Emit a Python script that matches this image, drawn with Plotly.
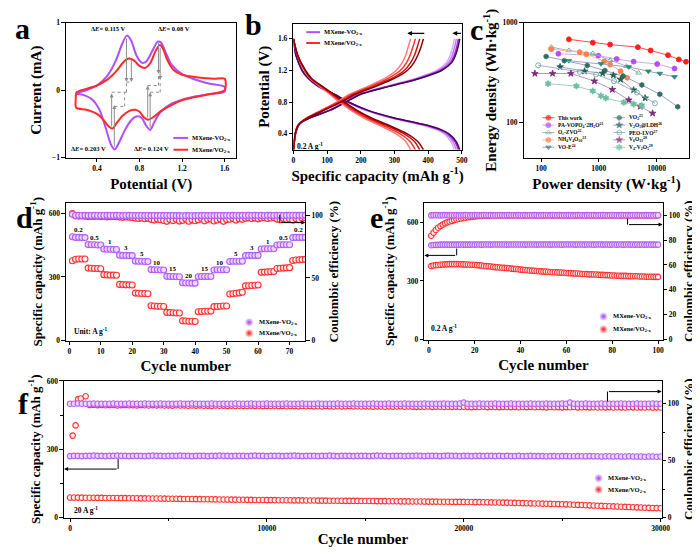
import plotly.graph_objects as go

# ======================= DATA =======================
# (a) cyclic voltammetry: potential (V) / current (mA)
cv_purple_v = [0.21, 0.30, 0.40, 0.50, 0.58, 0.64, 0.68, 0.72, 0.77, 0.82, 0.86, 0.92, 0.97, 1.00, 1.04, 1.10, 1.20, 1.30, 1.45, 1.60,
               1.60, 1.45, 1.30, 1.20, 1.10, 1.00, 0.94, 0.90, 0.86, 0.82, 0.77, 0.72, 0.66, 0.60, 0.565, 0.53, 0.48, 0.42, 0.35, 0.27, 0.21]
cv_purple_i = [-0.05, 0.00, 0.07, 0.22, 0.45, 0.70, 0.81, 0.74, 0.52, 0.41, 0.42, 0.58, 0.72, 0.71, 0.58, 0.38, 0.24, 0.17, 0.10, 0.05,
               -0.02, -0.06, -0.10, -0.14, -0.20, -0.32, -0.47, -0.59, -0.52, -0.41, -0.39, -0.45, -0.60, -0.80, -0.88, -0.80, -0.55, -0.28, -0.13, -0.07, -0.05]
cv_red_v = [0.205, 0.20, 0.21, 0.30, 0.40, 0.50, 0.58, 0.65, 0.70, 0.75, 0.80, 0.85, 0.90, 0.95, 0.99, 1.02, 1.06, 1.12, 1.20, 1.35, 1.50, 1.60,
            1.60, 1.45, 1.30, 1.20, 1.10, 1.00, 0.93, 0.88, 0.84, 0.80, 0.76, 0.70, 0.64, 0.58, 0.545, 0.50, 0.45, 0.40, 0.30, 0.205]
cv_red_i = [-0.26, -0.15, -0.03, 0.02, 0.07, 0.16, 0.28, 0.42, 0.47, 0.44, 0.36, 0.33, 0.40, 0.58, 0.67, 0.62, 0.45, 0.30, 0.23, 0.19, 0.17, 0.17,
            0.00, -0.06, -0.11, -0.15, -0.22, -0.31, -0.40, -0.44, -0.40, -0.32, -0.29, -0.31, -0.38, -0.50, -0.57, -0.52, -0.42, -0.35, -0.29, -0.26]
delta_e_labels = ["0.115 V", "0.08 V", "0.203 V", "0.124 V"]

# (b) galvanostatic charge/discharge at 0.2 A g-1 (capacity mAh g-1 vs potential V)
b_v_pur_dis = [1.6, 1.4, 1.2, 1.1, 1.0, 0.9, 0.8, 0.7, 0.6, 0.55, 0.5, 0.45, 0.4, 0.3, 0.2]
b_pur_dis_1 = [0, 7, 26, 45, 75, 122, 165, 220, 300, 355, 405, 440, 462, 484, 494]
b_pur_dis_2 = [0, 7, 26, 44, 74, 121, 164, 218, 297, 352, 402, 436, 458, 480, 490]
b_pur_dis_3 = [0, 7, 25, 44, 73, 119, 162, 215, 294, 348, 397, 431, 453, 474, 484]
b_pur_dis_4 = [0, 7, 25, 43, 72, 118, 160, 212, 290, 343, 392, 425, 447, 468, 478]
b_v_pur_cha = [0.2, 0.4, 0.5, 0.55, 0.6, 0.7, 0.8, 0.9, 1.0, 1.1, 1.2, 1.3, 1.4, 1.5, 1.6]
b_pur_cha_1 = [0, 6, 14, 25, 48, 110, 155, 200, 285, 375, 440, 470, 482, 489, 494]
b_pur_cha_2 = [0, 6, 14, 25, 48, 109, 154, 198, 282, 372, 436, 466, 478, 485, 490]
b_pur_cha_3 = [0, 6, 14, 24, 47, 108, 152, 196, 279, 367, 431, 460, 472, 479, 484]
b_pur_cha_4 = [0, 6, 13, 24, 46, 106, 150, 193, 275, 363, 425, 454, 466, 473, 478]
b_v_red_dis = [1.6, 1.4, 1.2, 1.1, 1.0, 0.9, 0.8, 0.7, 0.6, 0.5, 0.4, 0.3, 0.2]
b_red_dis_1 = [0, 12, 36, 54, 86, 120, 152, 188, 232, 288, 338, 370, 386]
b_red_dis_2 = [0, 12, 35, 52, 84, 117, 148, 183, 226, 280, 329, 360, 375]
b_red_dis_3 = [0, 11, 34, 51, 81, 113, 143, 176, 218, 270, 317, 347, 362]
b_red_dis_4 = [0, 11, 32, 49, 78, 108, 137, 170, 209, 260, 305, 334, 348]
b_v_red_cha = [0.2, 0.4, 0.5, 0.55, 0.6, 0.7, 0.8, 0.9, 1.0, 1.1, 1.2, 1.3, 1.4, 1.5, 1.6]
b_red_cha_1 = [0, 5, 13, 24, 42, 92, 142, 185, 245, 300, 338, 358, 370, 379, 386]
b_red_cha_2 = [0, 5, 13, 23, 41, 89, 138, 180, 238, 292, 329, 348, 360, 368, 375]
b_red_cha_3 = [0, 5, 12, 22, 39, 86, 133, 174, 230, 281, 317, 336, 347, 355, 362]
b_red_cha_4 = [0, 5, 12, 22, 38, 83, 128, 167, 221, 271, 305, 323, 334, 341, 348]

# (c) Ragone plot: power density (W kg-1) / energy density (Wh kg-1)
this_work_P = [303, 786, 1567, 4750, 7900, 15800, 24300, 32400]
this_work_E = [682, 632, 604, 569, 527, 473, 428, 406]
pa_vopo4_P = [199, 980, 2037, 4010, 10260, 20500]
pa_vopo4_E = [489, 467, 432, 407, 385, 347]
oc_zvo_P = [150, 303, 786, 1567, 3010, 4880]
oc_zvo_E = [569, 527, 492, 420, 366, 314]
nh4v4o10_P = [150, 467, 606, 1242, 1567, 2380, 3090]
nh4v4o10_E = [543, 507, 484, 410, 380, 326, 280]
vo_e_P = [302, 1088, 3300, 7210, 11400, 20500]
vo_e_E = [416, 388, 360, 326, 309, 286]
vo2_P = [122, 252, 630, 1274, 2640, 5560, 11400, 23300]
vo2_E = [459, 416, 372, 331, 291, 237, 191, 143]
v2o5_ldh_P = [213, 567, 1162, 1786, 2380, 4010, 6340]
v2o5_ldh_E = [360, 326, 311, 297, 269, 211, 175]
peo_lvo_P = [89, 467, 895, 1834, 4570, 9370]
peo_lvo_E = [374, 321, 302, 259, 199, 155]
v6o13_P = [78, 158, 328, 839, 1718, 3300, 5210, 8550]
v6o13_E = [309, 309, 309, 259, 213, 167, 144, 123]
v4_v2o5_P = [132, 409, 786, 1088, 1324, 2710, 4010, 5560]
v4_v2o5_E = [244, 231, 206, 184, 175, 158, 152, 147]

# (d) rate performance
d_rates = ["0.2", "0.5", "1", "3", "5", "10", "15", "20", "15", "10", "5", "3", "1", "0.5", "0.2"]
d_cycles = list(range(1, 76))
d_pur_cap = [490, 487, 487, 486, 486, 453, 452, 452, 451, 451, 432, 431, 431, 430, 430,
             403, 402, 402, 401, 401, 375, 374, 374, 373, 373, 335, 334, 334, 333, 333,
             303, 302, 302, 301, 301, 273, 272, 272, 271, 271, 301, 302, 302, 302, 302,
             333, 334, 334, 334, 334, 373, 374, 374, 374, 374, 401, 402, 402, 402, 402,
             432, 433, 433, 433, 433, 451, 452, 452, 452, 452, 486, 487, 487, 487, 487]
d_red_cap = [377, 384, 385, 385, 385, 342, 341, 340, 340, 339, 311, 310, 309, 309, 308,
             265, 264, 263, 263, 262, 224, 223, 222, 222, 221, 164, 163, 162, 162, 161,
             133, 132, 131, 130, 130, 93, 92, 91, 91, 90, 136, 137, 138, 138, 139,
             160, 161, 162, 163, 163, 220, 221, 223, 225, 228, 258, 259, 260, 261, 262,
             322, 323, 324, 325, 326, 340, 341, 342, 343, 344, 378, 380, 381, 382, 383]
d_pur_ce = [100.8, 99.9, 100.0, 99.9, 100.0, 99.8, 99.9, 100.0, 99.9, 99.9, 99.9, 100.0, 99.9, 99.9, 100.0,
            99.9, 99.8, 99.9, 100.0, 99.9, 99.8, 99.9, 99.9, 99.8, 99.9, 99.8, 99.9, 99.8, 99.9, 99.8,
            99.9, 99.8, 99.9, 99.8, 99.8, 99.7, 99.8, 99.8, 99.7, 99.8, 99.9, 99.8, 99.9, 99.8, 99.9,
            99.8, 99.9, 99.9, 99.8, 99.9, 99.9, 100.0, 99.9, 99.9, 100.0, 99.9, 100.0, 99.9, 100.0, 99.9,
            100.0, 99.9, 100.0, 100.0, 99.9, 100.0, 100.1, 99.9, 100.0, 100.0, 100.1, 100.0, 100.0, 100.1, 100.0]
d_red_ce = [101.5, 99.6, 99.4, 99.5, 99.3, 99.0, 99.2, 99.1, 99.3, 99.0, 99.2, 98.8, 99.0, 99.1, 98.9,
            98.6, 98.4, 98.7, 98.5, 98.3, 97.8, 97.5, 97.9, 97.3, 97.6, 96.8, 96.2, 97.0, 96.5, 95.9,
            95.2, 96.6, 95.8, 96.9, 95.4, 96.0, 97.2, 95.3, 96.4, 95.7, 96.5, 97.4, 95.6, 96.8, 97.1,
            95.5, 96.3, 97.0, 95.2, 96.6, 96.9, 97.5, 96.2, 97.3, 96.8, 97.6, 98.0, 97.4, 97.9, 97.2,
            97.8, 98.1, 97.5, 97.9, 98.2, 97.0, 96.5, 97.6, 96.8, 97.3, 96.2, 97.4, 96.6, 97.8, 98.0]

# (e) cycling at 0.2 A g-1
e_cycles = list(range(1, 101))
e_pur_cap = [483, 484, 485, 485, 486, 486, 486, 486, 486, 486, 486, 486, 486, 487, 486, 486, 486, 486, 487, 486,
             487, 487, 486, 487, 487, 487, 486, 487, 487, 487, 487, 487, 487, 486, 487, 487, 487, 487, 487, 487,
             487, 486, 487, 487, 487, 487, 486, 487, 487, 487, 487, 487, 486, 487, 487, 487, 487, 486, 487, 487,
             487, 487, 487, 486, 487, 487, 487, 486, 487, 487, 487, 486, 487, 487, 487, 486, 487, 487, 486, 487,
             487, 486, 487, 487, 486, 487, 487, 486, 487, 486, 487, 486, 487, 486, 486, 487, 486, 486, 486, 486]
e_red_cap = [376, 379, 381, 382, 383, 384, 385, 385, 386, 386, 386, 386, 386, 385, 385, 384, 384, 383, 383, 382,
             381, 380, 379, 377, 376, 375, 374, 372, 371, 370, 369, 368, 367, 366, 365, 363, 362, 361, 360, 358,
             357, 356, 355, 354, 353, 352, 351, 350, 349, 348, 348, 347, 346, 345, 345, 344, 343, 343, 342, 341,
             340, 340, 339, 338, 338, 337, 336, 336, 335, 334, 334, 333, 333, 332, 331, 331, 330, 330, 329, 328,
             328, 327, 327, 326, 326, 326, 325, 325, 324, 324, 324, 323, 323, 323, 322, 322, 322, 321, 321, 321]
e_pur_ce = [99.9, 100.0, 100.1, 100.0, 99.9, 100.0, 100.1, 100.0, 99.9, 100.0, 100.0, 100.1, 99.9, 100.0, 100.0,
            100.1, 100.0, 99.9, 100.0, 100.1, 100.0, 100.0, 99.9, 100.1, 100.0, 100.0, 100.1, 99.9, 100.0, 100.0,
            100.1, 100.0, 99.9, 100.0, 100.1, 100.0, 100.0, 99.9, 100.1, 100.0, 100.0, 100.1, 99.9, 100.0, 100.0,
            100.1, 100.0, 99.9, 100.0, 100.1, 100.0, 100.0, 99.9, 100.1, 100.0, 100.0, 100.1, 99.9, 100.0, 100.0,
            100.1, 100.0, 99.9, 100.0, 100.1, 100.0, 100.0, 99.9, 100.1, 100.0, 100.0, 100.1, 99.9, 100.0, 100.0,
            100.1, 100.0, 99.9, 100.0, 100.1, 100.0, 100.0, 99.9, 100.1, 100.0, 100.0, 100.1, 99.9, 100.0, 100.0,
            100.1, 100.0, 99.9, 100.0, 100.1, 100.0, 100.0, 99.9, 100.1, 100.0]
e_red_ce = [83.5, 86.0, 88.2, 90.0, 91.3, 92.5, 93.5, 94.3, 95.0, 95.5, 96.1, 96.6, 97.0, 97.4, 97.8,
            98.1, 98.4, 98.7, 98.9, 99.1, 99.3, 99.4, 99.5, 99.6, 99.7, 99.7, 99.8, 99.8, 99.8, 99.9,
            99.9, 99.8, 99.9, 99.9, 99.8, 99.9, 99.9, 99.8, 99.9, 99.9, 99.8, 99.9, 99.9, 99.8, 99.9,
            99.9, 99.8, 99.9, 99.9, 99.8, 99.9, 99.9, 99.8, 99.9, 99.9, 99.8, 99.9, 99.9, 99.8, 99.9,
            99.9, 99.8, 99.9, 99.9, 99.8, 99.9, 99.9, 99.8, 99.9, 99.9, 99.8, 99.9, 99.9, 99.8, 99.9,
            99.9, 99.8, 99.9, 99.9, 99.8, 99.9, 99.9, 99.8, 99.9, 99.9, 99.8, 99.9, 99.9, 99.8, 99.9,
            99.9, 99.8, 99.9, 99.9, 99.8, 99.9, 99.9, 99.8, 99.9, 99.9]

# (f) long cycling at 20 A g-1 (one marker every 200 cycles)
f_cycles = list(range(0, 30001, 200))
f_pur_cap = [270, 271, 271, 270, 271, 271, 272, 271, 271, 270, 271, 271, 272, 271, 271, 270, 271, 271, 271, 270,
             271, 272, 271, 271, 270, 271, 271, 271, 272, 271, 271, 270, 271, 271, 271, 270, 271, 271, 272, 271,
             271, 270, 271, 271, 271, 270, 271, 272, 271, 271, 270, 271, 271, 271, 270, 271, 271, 272, 271, 270,
             271, 271, 271, 270, 271, 271, 272, 271, 270, 271, 271, 271, 270, 271, 271, 271, 270, 271, 272, 271,
             271, 270, 271, 271, 271, 270, 271, 271, 272, 271, 270, 271, 271, 271, 270, 271, 272, 271, 271, 270,
             271, 271, 270, 271, 271, 270, 271, 271, 270, 271, 270, 271, 270, 270, 271, 270, 270, 271, 270, 270,
             270, 269, 270, 270, 269, 270, 270, 269, 269, 270, 269, 269, 270, 269, 269, 268, 269, 269, 268, 269,
             268, 268, 269, 268, 268, 268, 267, 268, 268, 267, 268]
f_red_cap = [88, 88, 87.8, 87.6, 87.4, 87.2, 87, 86.8, 86.6, 86.4, 86.2, 86, 85.8, 85.6, 85.4, 85.2, 85, 84.8, 84.6, 84.4,
             84.2, 84, 83.8, 83.6, 83.4,
             83, 82.8, 82.5, 82.3, 82, 81.8, 81.5, 81.3, 81, 80.8, 80.5, 80.3, 80, 79.8, 79.5, 79.3, 79, 78.8, 78.5, 78.3,
             78, 77.8, 77.6, 77.4, 77.2,
             77, 76.8, 76.7, 76.5, 76.3, 76.2, 76, 75.8, 75.7, 75.5, 75.3, 75.2, 75, 74.8, 74.7, 74.5, 74.3, 74.2, 74, 73.8,
             73.7, 73.5, 73.4, 73.3, 73.2,
             73, 72.8, 72.7, 72.5, 72.3, 72.2, 72, 71.8, 71.7, 71.5, 71.3, 71.2, 71, 70.8, 70.7, 70.5, 70.3, 70.2, 70, 69.8,
             69.7, 69.5, 69.4, 69.3, 69.2,
             69, 68.7, 68.4, 68.1, 67.8, 67.5, 67.2, 66.9, 66.6, 66.3, 66, 65.7, 65.3,
             64.5, 64, 63.6, 63.2, 62.7, 62.2, 61.8, 61.3, 60.8, 60.3, 59.9, 59.4, 59,
             58.3, 57.6, 56.8, 56, 55.3, 54.5, 53.8, 53, 52.3, 51.5, 50.8, 50,
             49.3, 48.6, 47.8, 47.1, 46.4, 45.6, 44.9, 44.2, 43.4, 42.7, 42, 41.5, 41]
f_pur_ce = [100.0, 99.9, 100.1, 100.0, 99.9, 100.0, 100.1, 99.9, 100.0, 100.0, 99.9, 100.1, 100.0, 99.9, 100.0,
            100.1, 100.0, 99.9, 100.0, 100.1, 100.0, 99.9, 100.0, 100.1, 100.0, 99.9, 100.0, 100.0, 100.1, 99.9,
            100.0, 100.1, 100.0, 99.9, 100.0, 100.0, 100.1, 99.9, 100.0, 100.0, 99.9, 100.0, 100.1, 100.0, 99.9,
            100.0, 100.1, 100.0, 99.9, 100.0, 100.1, 100.0, 99.9, 100.0, 100.0, 100.1, 99.9, 100.0, 100.0, 100.1,
            100.0, 99.9, 100.0, 100.1, 100.0, 99.9, 100.0, 100.0, 100.1, 100.0, 99.9, 100.0, 100.1, 100.0, 99.9,
            100.0, 100.0, 100.1, 99.9, 100.0, 100.0, 100.1, 100.0, 99.9, 100.0, 100.1, 100.0, 100.0, 99.9, 100.0,
            100.1, 100.0, 99.9, 100.0, 100.0, 100.1, 99.9, 100.0, 100.0, 100.1, 101.0, 100.0, 99.9, 100.0, 100.1,
            100.0, 99.9, 100.0, 100.1, 100.0, 99.9, 100.0, 100.1, 100.0, 100.0, 99.9, 100.0, 100.1, 100.0, 99.9,
            100.0, 100.1, 100.0, 99.9, 100.0, 100.1, 100.0, 101.0, 100.0, 99.9, 100.0, 100.1, 100.0, 99.9, 100.0,
            100.1, 100.0, 99.9, 100.0, 100.0, 100.1, 99.9, 100.0, 100.0, 100.1, 100.0, 99.9, 100.0, 100.1, 100.0,
            100.0]
f_red_ce_cycles = [134, 283, 411, 545, 793] + list(range(1000, 30001, 200))
f_red_ce = [72.0, 81.0, 104.0, 104.5, 106.5,
            98.8, 99.0, 98.7, 98.9, 98.6, 98.8, 98.9, 98.5, 98.7, 98.8,
            98.6, 98.7, 98.5, 98.8, 98.6, 98.4, 98.7, 98.5, 98.6, 98.4,
            98.5, 98.3, 98.6, 98.4, 98.5, 98.2, 98.4, 98.3, 98.5, 98.2,
            98.3, 98.1, 98.4, 98.2, 98.3, 98.1, 98.3, 98.0, 98.2, 98.1,
            98.0, 98.3, 98.1, 98.2, 97.9, 98.1, 98.0, 98.2, 97.9, 98.1,
            97.8, 98.0, 97.9, 97.7, 98.0, 97.8, 97.9, 97.7, 97.8, 97.6,
            97.9, 97.7, 97.5, 97.8, 97.6, 97.7, 97.9, 97.6, 97.8, 97.5,
            97.7, 97.6, 97.4, 97.6, 97.5, 97.3, 97.6, 97.4, 97.5, 97.7,
            97.3, 97.5, 97.4, 97.2, 97.4, 97.3, 97.5, 97.2, 97.4, 97.3,
            97.1, 97.3, 97.2, 97.4, 97.1, 97.3, 97.2, 97.0, 97.2, 97.1,
            97.3, 97.0, 97.2, 97.1, 97.0, 97.2, 97.1, 97.0, 97.2, 96.9,
            97.1, 97.0, 97.2, 96.9, 97.1, 97.0, 96.8, 97.1, 96.9, 97.0,
            96.8, 97.0, 96.9, 97.1, 96.8, 96.9, 97.0, 96.8, 96.9, 96.7,
            96.9, 96.8, 97.0, 96.7, 96.9, 96.8, 96.7, 96.9, 96.8, 96.7,
            96.8, 96.7, 96.9, 96.6, 96.8, 96.7]
f_xtick_labels = ["0", "10000", "20000", "30000"]

# ======================= STYLE =======================
FONT = "Liberation Serif"
PURPLE = "#b04dff"
RED = "#ff2a2a"
TF = dict(family=FONT, size=7.5, color="black", weight="bold")
TTF = dict(family=FONT, size=15, color="black", weight="bold")
YTF = dict(family=FONT, size=13, color="black", weight="bold")
LF = dict(family=FONT, size=6.5, color="black", weight="bold")
W, H = 700, 552


def fx(p):
    return p / W


def fy(p):
    return 1 - p / H


def base(**kw):
    d = dict(showline=True, linecolor="black", linewidth=1.4, mirror=True, ticks="outside",
             ticklen=3.5, tickwidth=1.2, tickcolor="black", tickfont=TF, showgrid=False,
             zeroline=False)
    d.update(kw)
    return d


fig = go.Figure()

# ---------- (a) ----------
fig.add_trace(go.Scatter(x=cv_purple_v, y=cv_purple_i, mode="lines", xaxis="x", yaxis="y",
                         line=dict(color=PURPLE, width=2, shape="spline", smoothing=0.8)))
fig.add_trace(go.Scatter(x=cv_red_v, y=cv_red_i, mode="lines", xaxis="x", yaxis="y",
                         line=dict(color=RED, width=2, shape="spline", smoothing=0.8)))

# ---------- (b) ----------
pur_shades = ["#4a005e", "#9a30d0", "#c27af0", "#ddb0f6"]
red_shades = ["#8b0000", "#cc1010", "#ff3030", "#ff7a7a"]
for caps, col in zip([b_pur_dis_4, b_pur_dis_3, b_pur_dis_2, b_pur_dis_1], pur_shades[::-1]):
    fig.add_trace(go.Scatter(x=caps, y=b_v_pur_dis, mode="lines", xaxis="x2", yaxis="y2",
                             line=dict(color=col, width=1.5, shape="spline", smoothing=0.6)))
for caps, col in zip([b_pur_cha_4, b_pur_cha_3, b_pur_cha_2, b_pur_cha_1], pur_shades[::-1]):
    fig.add_trace(go.Scatter(x=caps, y=b_v_pur_cha, mode="lines", xaxis="x2", yaxis="y2",
                             line=dict(color=col, width=1.5, shape="spline", smoothing=0.6)))
for caps, col in zip([b_red_dis_4, b_red_dis_3, b_red_dis_2, b_red_dis_1], red_shades[::-1]):
    fig.add_trace(go.Scatter(x=caps, y=b_v_red_dis, mode="lines", xaxis="x2", yaxis="y2",
                             line=dict(color=col, width=1.5, shape="spline", smoothing=0.6)))
for caps, col in zip([b_red_cha_4, b_red_cha_3, b_red_cha_2, b_red_cha_1], red_shades[::-1]):
    fig.add_trace(go.Scatter(x=caps, y=b_v_red_cha, mode="lines", xaxis="x2", yaxis="y2",
                             line=dict(color=col, width=1.5, shape="spline", smoothing=0.6)))

# ---------- (c) ----------
c_series = [
    ("This work", this_work_P, this_work_E, "circle", "#ff1f1f", "#ff4a4a"),
    ("PA-VOPO<sub>4</sub>·2H<sub>2</sub>O<sup>21</sup>", pa_vopo4_P, pa_vopo4_E, "circle", "#b44dff", "#c7aee6"),
    ("O<sub>c</sub>-ZVO<sup>22</sup>", oc_zvo_P, oc_zvo_E, "triangle-up-open", "#5f9e8c", "#aab4d0"),
    ("NH<sub>4</sub>V<sub>4</sub>O<sub>10</sub><sup>23</sup>", nh4v4o10_P, nh4v4o10_E, "circle", "#ff7f4f", "#ffb796"),
    ("VO-E<sup>24</sup>", vo_e_P, vo_e_E, "triangle-down", "#2a8a78", "#98a6c4"),
    ("VO<sub>2</sub><sup>25</sup>", vo2_P, vo2_E, "hexagon", "#2f6f60", "#9aa0c4"),
    ("V<sub>2</sub>O<sub>5</sub>@LDH<sup>26</sup>", v2o5_ldh_P, v2o5_ldh_E, "star", "#1f5f52", "#98a0c0"),
    ("PEO-LVO<sup>27</sup>", peo_lvo_P, peo_lvo_E, "circle-open", "#5f9e8c", "#a8aecb"),
    ("V<sub>6</sub>O<sub>13</sub><sup>28</sup>", v6o13_P, v6o13_E, "star", "#7a2a7a", "#ae98c8"),
    ("V<sub>4</sub>-V<sub>2</sub>O<sub>5</sub><sup>29</sup>", v4_v2o5_P, v4_v2o5_E, "hexagram", "#6dbf9f", "#a8cbbd"),
]
for name, P, E, sym, mc, lc in c_series:
    fig.add_trace(go.Scatter(x=P, y=E, mode="lines+markers", xaxis="x3", yaxis="y3",
                             line=dict(color=lc, width=1),
                             marker=dict(symbol=sym, size=5, color=mc, line=dict(color=mc, width=0.8))))

# marker style for cycling panels
PUR_M = dict(symbol="circle", color="#ecd6ff", line=dict(color="#b25df5", width=1.1))
RED_M = dict(symbol="circle", color="#fff0f0", line=dict(color="#ff3030", width=1.1))

# ---------- (d) ----------
fig.add_trace(go.Scatter(x=d_cycles, y=d_red_ce, mode="markers", xaxis="x4", yaxis="y5", marker=dict(size=6, **RED_M)))
fig.add_trace(go.Scatter(x=d_cycles, y=d_pur_ce, mode="markers", xaxis="x4", yaxis="y5", marker=dict(size=6, **PUR_M)))
fig.add_trace(go.Scatter(x=d_cycles, y=d_red_cap, mode="markers", xaxis="x4", yaxis="y4", marker=dict(size=6, **RED_M)))
fig.add_trace(go.Scatter(x=d_cycles, y=d_pur_cap, mode="markers", xaxis="x4", yaxis="y4", marker=dict(size=6, **PUR_M)))

# ---------- (e) ----------
fig.add_trace(go.Scatter(x=e_cycles, y=e_red_ce, mode="markers", xaxis="x5", yaxis="y7", marker=dict(size=5.5, **RED_M)))
fig.add_trace(go.Scatter(x=e_cycles, y=e_pur_ce, mode="markers", xaxis="x5", yaxis="y7", marker=dict(size=5.5, **PUR_M)))
fig.add_trace(go.Scatter(x=e_cycles, y=e_red_cap, mode="markers", xaxis="x5", yaxis="y6", marker=dict(size=5.5, **RED_M)))
fig.add_trace(go.Scatter(x=e_cycles, y=e_pur_cap, mode="markers", xaxis="x5", yaxis="y6", marker=dict(size=5.5, **PUR_M)))

# ---------- (f) ----------
fig.add_trace(go.Scatter(x=f_red_ce_cycles, y=f_red_ce, mode="markers", xaxis="x6", yaxis="y9", marker=dict(size=5.5, **RED_M)))
fig.add_trace(go.Scatter(x=f_cycles, y=f_pur_ce, mode="markers", xaxis="x6", yaxis="y9", marker=dict(size=5.5, **PUR_M)))
fig.add_trace(go.Scatter(x=f_cycles, y=f_red_cap, mode="markers", xaxis="x6", yaxis="y8", marker=dict(size=5.5, **RED_M)))
fig.add_trace(go.Scatter(x=f_cycles, y=f_pur_cap, mode="markers", xaxis="x6", yaxis="y8", marker=dict(size=5.5, **PUR_M)))

# ======================= LEGEND KEYS (pixel overlay axis) =======================
annotations = []
shapes = []


def key_line(x0, x1, y, color, text, tx):
    fig.add_trace(go.Scatter(x=[x0, x1], y=[y, y], mode="lines", xaxis="x7", yaxis="y10",
                             line=dict(color=color, width=2), hoverinfo="skip"))
    annotations.append(dict(x=tx, y=y, xref="x7", yref="y10", text=text, showarrow=False,
                            xanchor="left", yanchor="middle", font=LF))


def key_ball(x, y, color, light, text, tx):
    fig.add_trace(go.Scatter(x=[x], y=[y], mode="markers", xaxis="x7", yaxis="y10", hoverinfo="skip",
                             marker=dict(size=8, color=light, gradient=dict(type="radial", color=color),
                                         line=dict(width=0))))
    annotations.append(dict(x=tx, y=y, xref="x7", yref="y10", text=text, showarrow=False,
                            xanchor="left", yanchor="middle", font=LF))


N1 = "MXene-VO<sub>2-x</sub>"
N2 = "MXene/VO<sub>2-x</sub>"
key_line(166, 181, 128, PURPLE, N1, 183)
key_line(166, 181, 140, RED, N2, 183)
key_line(301, 315, 20.5, PURPLE, N1, 317)
key_line(301, 315, 31.5, RED, N2, 317)
key_ball(243, 315.5, "#a040f0", "#f3e2ff", N1, 251)
key_ball(243, 326.5, "#f01818", "#ffe0e0", N2, 251)
key_ball(603, 309.5, "#a040f0", "#f3e2ff", N1, 611)
key_ball(603, 322.5, "#f01818", "#ffe0e0", N2, 611)
key_ball(598, 474, "#a040f0", "#f3e2ff", N1, 606)
key_ball(598, 485.5, "#f01818", "#ffe0e0", N2, 606)

c_key_rows = [107.5, 115, 122.5, 130, 137.5]
for k, (name, P, E, sym, mc, lc) in enumerate(c_series):
    col = k // 5
    row = c_key_rows[k % 5]
    x0 = 541 if col == 0 else 613
    fig.add_trace(go.Scatter(x=[x0, x0 + 6, x0 + 12], y=[row, row, row], mode="lines+markers",
                             xaxis="x7", yaxis="y10", hoverinfo="skip", line=dict(color=lc, width=1),
                             marker=dict(symbol=sym, size=[0, 5, 0], color=mc, line=dict(color=mc, width=0.8))))
    annotations.append(dict(x=x0 + 14, y=row, xref="x7", yref="y10", text=name, showarrow=False,
                            xanchor="left", yanchor="middle",
                            font=dict(family=FONT, size=5.5, color="black", weight="bold")))

# panel letters
for letter, x, y in [("a", 13, 17), ("b", 247, 13), ("c", 474, 18), ("d", 15, 209), ("e", 372, 209), ("f", 14, 398)]:
    annotations.append(dict(x=x, y=y, xref="x7", yref="y10", text=letter, showarrow=False,
                            font=dict(family=FONT, size=30, color="black", weight="bold")))

# ---------- (a) annotations ----------
DE_F = dict(family=FONT, size=6.5, color="black", weight="bold")
for txt, xv, yv in zip(delta_e_labels, [0.508, 1.123, 0.323, 0.908], [0.91, 0.91, -0.864, -0.864]):
    annotations.append(dict(x=xv, y=yv, xref="x", yref="y", text="Δ<i>E</i>= " + txt, showarrow=False, font=DE_F))

GRAY = "#8c8c8c"


def arrow(x, y, ax, ay, xr, yr, color="black", w=1.0, size=1.0):
    annotations.append(dict(x=x, y=y, ax=ax, ay=ay, xref=xr, yref=yr, axref=xr, ayref=yr, text="",
                            showarrow=True, arrowhead=2, arrowsize=size, arrowwidth=w, arrowcolor=color))


for xv, y0, y1 in [(0.677, 0.79, 0.12), (0.723, 0.47, 0.12), (0.978, 0.72, 0.24), (0.994, 0.65, 0.15)]:
    arrow(xv, y1, xv, y0, "x", "y", GRAY, 1.0, 0.8)
for xv, y0, y1 in [(0.538, -0.56, -0.05), (0.563, -0.86, -0.22), (0.877, -0.43, 0.07), (0.90, -0.58, -0.03)]:
    arrow(xv, y1, xv, y0, "x", "y", GRAY, 1.0, 0.8)
for pts in [[(0.538, -0.03), (0.677, -0.03), (0.677, 0.12), (0.723, 0.12)],
            [(0.563, -0.24), (0.66, -0.24), (0.66, -0.03)],
            [(0.877, 0.07), (0.978, 0.07), (0.978, 0.24)],
            [(0.90, -0.03), (0.994, -0.03), (0.994, 0.15)]]:
    for (xa, ya), (xb, yb) in zip(pts[:-1], pts[1:]):
        shapes.append(dict(type="line", x0=xa, y0=ya, x1=xb, y1=yb, xref="x", yref="y",
                           line=dict(color=GRAY, width=1, dash="dot")))

# ---------- (b) annotations ----------
arrow(338, 1.67, 393, 1.67, "x2", "y2", "black", 1.2, 0.8)
arrow(472, 1.67, 502, 1.67, "x2", "y2", "black", 1.2, 0.8)
annotations.append(dict(x=5, y=0.245, xref="x2", yref="y2", text="0.2 A g<sup>-1</sup>", showarrow=False,
                        xanchor="left", font=dict(family=FONT, size=7.5, color="black", weight="bold")))

# ---------- (d) annotations ----------
RF = dict(family=FONT, size=7, color="black", weight="bold")
d_steps = [487, 452, 431, 402, 374, 334, 302, 272, 302, 334, 374, 402, 433, 452, 487]
for k, (lab, cap) in enumerate(zip(d_rates, d_steps)):
    annotations.append(dict(x=5 * k + 3, y=cap + 34, xref="x4", yref="y4", text=lab, showarrow=False, font=RF))
annotations.append(dict(x=1, y=45, xref="x4", yref="y4", text="Unit: A g<sup>-1</sup>", showarrow=False,
                        xanchor="left", font=dict(family=FONT, size=7.5, color="black", weight="bold")))
shapes.append(dict(type="line", x0=66.9, x1=66.9, y0=100.5, y1=94.2, xref="x4", yref="y5", line=dict(color="black", width=1)))
arrow(75, 94.2, 66.9, 94.2, "x4", "y5", "black", 1.0, 0.8)

# ---------- (e) annotations ----------
annotations.append(dict(x=0, y=58, xref="x5", yref="y6", text="0.2 A g<sup>-1</sup>", showarrow=False,
                        xanchor="left", font=dict(family=FONT, size=7.5, color="black", weight="bold")))
shapes.append(dict(type="line", x0=12.1, x1=12.1, y0=466, y1=431, xref="x5", yref="y6", line=dict(color="black", width=1)))
arrow(-2, 431, 12.1, 431, "x5", "y6", "black", 1.0, 0.8)
shapes.append(dict(type="line", x0=86.7, x1=86.7, y0=97.2, y1=92.5, xref="x5", yref="y7", line=dict(color="black", width=1)))
arrow(102, 92.5, 86.7, 92.5, "x5", "y7", "black", 1.0, 0.8)

# ---------- (f) annotations ----------
annotations.append(dict(x=100, y=33, xref="x6", yref="y8", text="20 A g<sup>-1</sup>", showarrow=False,
                        xanchor="left", font=dict(family=FONT, size=7.5, color="black", weight="bold")))
shapes.append(dict(type="line", x0=2443, x1=2443, y0=257, y1=213, xref="x6", yref="y8", line=dict(color="black", width=1)))
arrow(-300, 213, 2443, 213, "x6", "y8", "black", 1.0, 0.8)
shapes.append(dict(type="line", x0=27300, x1=27300, y0=102, y1=110.6, xref="x6", yref="y9", line=dict(color="black", width=1)))
arrow(30050, 110.6, 27300, 110.6, "x6", "y9", "black", 1.0, 0.8)

# ======================= LAYOUT =======================
layout = dict(
    width=W, height=H, margin=dict(l=0, r=0, t=0, b=0), showlegend=False,
    paper_bgcolor="white", plot_bgcolor="rgba(0,0,0,0)", font=dict(family=FONT, color="black"),
    annotations=annotations, shapes=shapes,
    # (a)
    xaxis=base(domain=[fx(57), fx(230)], range=[0.11, 1.71], anchor="y", tickvals=[0.4, 0.8, 1.2, 1.6],
               title=dict(text="Potential (V)", font=TTF, standoff=6)),
    yaxis=base(domain=[fy(148), fy(11)], range=[-1, 1], anchor="x", tickvals=[-1, 0, 1],
               title=dict(text="Current (mA)", font=TTF, standoff=6)),
    # (b)
    xaxis2=base(domain=[fx(288), fx(459)], range=[0, 500], anchor="y2", tickvals=[0, 100, 200, 300, 400, 500],
                title=dict(text="Specific capacity (mAh g<sup>-1</sup>)", font=TTF, standoff=5)),
    yaxis2=base(domain=[fy(140), fy(12)], range=[0.2, 1.79], anchor="x2", tickvals=[0.4, 0.8, 1.2, 1.6],
                title=dict(text="Potential (V)", font=TTF, standoff=4)),
    # (c)
    xaxis3=base(domain=[fx(522), fx(690)], type="log", range=[1.7, 4.565], anchor="y3",
                tickvals=[100, 1000, 10000], ticktext=["100", "1000", "10000"],
                title=dict(text="Power density (W·kg<sup>-1</sup>)", font=TTF, standoff=6)),
    yaxis3=base(domain=[fy(148), fy(11)], type="log", range=[1.644, 3.0], anchor="x3",
                tickvals=[100, 1000], ticktext=["100", "1000"],
                title=dict(text="Energy density (Wh·kg<sup>-1</sup>)", font=TTF, standoff=2)),
    # (d)
    xaxis4=base(domain=[fx(57), fx(300)], range=[-1, 75], anchor="y4", tickvals=[0, 10, 20, 30, 40, 50, 60, 70],
                title=dict(text="Cycle number", font=TTF, standoff=5)),
    yaxis4=base(domain=[fy(334), fy(194)], range=[0, 650], anchor="x4", mirror=False, tickvals=[0, 300, 600],
                title=dict(text="Specific capacity (mAh g<sup>-1</sup>)", font=YTF, standoff=3)),
    yaxis5=base(range=[0, 110], anchor="x4", overlaying="y4", side="right", mirror=False, tickvals=[0, 50, 100],
                title=dict(text="Coulombic efficiency (%)", font=YTF, standoff=6)),
    # (e)
    xaxis5=base(domain=[fx(421), fx(663)], range=[-2, 102], anchor="y6", tickvals=[0, 20, 40, 60, 80, 100],
                title=dict(text="Cycle number", font=TTF, standoff=5)),
    yaxis6=base(domain=[fy(333), fy(194)], range=[0, 700], anchor="x5", mirror=False, tickvals=[0, 300, 600],
                title=dict(text="Specific capacity (mAh g<sup>-1</sup>)", font=YTF, standoff=9)),
    yaxis7=base(range=[0, 110], anchor="x5", overlaying="y6", side="right", mirror=False,
                tickvals=[0, 20, 40, 60, 80, 100],
                title=dict(text="Coulombic efficiency (%)", font=YTF, standoff=4)),
    # (f)
    xaxis6=base(domain=[fx(55), fx(662)], range=[-300, 30050], anchor="y8", tickvals=[0, 10000, 20000, 30000],
                ticktext=f_xtick_labels,
                minor=dict(dtick=5000, ticks="outside", ticklen=2.5, tickcolor="black", tickwidth=1),
                title=dict(text="Cycle number", font=TTF, standoff=1)),
    yaxis8=base(domain=[fy(514), fy(375)], range=[0, 600], anchor="x6", mirror=False, tickvals=[0, 300, 600],
                minor=dict(dtick=150, ticks="outside", ticklen=2.5, tickcolor="black", tickwidth=1),
                title=dict(text="Specific capacity (mAh g<sup>-1</sup>)", font=YTF, standoff=3)),
    yaxis9=base(range=[0, 120], anchor="x6", overlaying="y8", side="right", mirror=False, tickvals=[0, 50, 100],
                minor=dict(dtick=25, ticks="outside", ticklen=2.5, tickcolor="black", tickwidth=1),
                title=dict(text="Coulombic efficiency (%)", font=YTF, standoff=5)),
    # pixel overlay for legend keys
    xaxis7=dict(domain=[0, 1], range=[0, W], visible=False, anchor="y10", fixedrange=True),
    yaxis10=dict(domain=[0, 1], range=[H, 0], visible=False, anchor="x7", fixedrange=True),
)
fig.update_layout(**layout)
fig.write_html("out.html")
